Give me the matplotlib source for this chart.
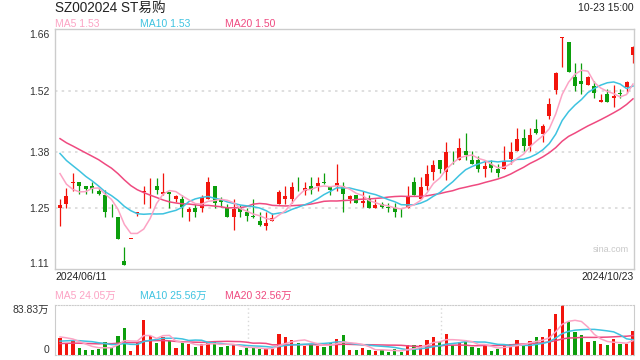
import numpy as np
import pandas as pd
import matplotlib
matplotlib.use("Agg")
import matplotlib.pyplot as plt

plt.rcParams['font.family'] = ['Liberation Sans', 'Noto Sans CJK SC', 'DejaVu Sans']

# Daily candles, 2024/06/11 - 2024/10/23
opens = [1.251, 1.260, 1.308, 1.310, 1.301, 1.301, 1.290, 1.280, 1.242, 1.230,
         1.128, 1.179, 1.238, 1.287, 1.300, 1.301, 1.282, 1.288, 1.272, 1.270,
         1.242, 1.250, 1.251, 1.272, 1.301, 1.270, 1.251, 1.230, 1.251, 1.242,
         1.230, 1.220, 1.209, 1.220, 1.260, 1.270, 1.270, 1.302, 1.290, 1.301,
         1.301, 1.310, 1.301, 1.301, 1.301, 1.270, 1.280, 1.261, 1.271, 1.251,
         1.260, 1.252, 1.251, 1.241, 1.251, 1.309, 1.271, 1.301, 1.332, 1.361,
         1.332, 1.371, 1.361, 1.382, 1.361, 1.361, 1.340, 1.352, 1.340, 1.340,
         1.362, 1.382, 1.412, 1.392, 1.432, 1.421, 1.463, 1.522, 1.642, 1.632,
         1.551, 1.543, 1.533, 1.532, 1.494, 1.513, 1.503, 1.515, 1.528, 1.602]
closes = [1.257, 1.278, 1.310, 1.302, 1.293, 1.295, 1.282, 1.240, 1.240, 1.180,
          1.120, 1.179, 1.240, 1.290, 1.302, 1.292, 1.286, 1.282, 1.278, 1.252,
          1.248, 1.242, 1.276, 1.310, 1.261, 1.263, 1.230, 1.248, 1.242, 1.233,
          1.229, 1.211, 1.216, 1.227, 1.287, 1.278, 1.299, 1.300, 1.296, 1.292,
          1.308, 1.308, 1.292, 1.308, 1.282, 1.278, 1.261, 1.266, 1.251, 1.257,
          1.252, 1.250, 1.242, 1.240, 1.278, 1.280, 1.298, 1.329, 1.349, 1.340,
          1.380, 1.369, 1.388, 1.372, 1.352, 1.340, 1.348, 1.343, 1.331, 1.359,
          1.379, 1.409, 1.392, 1.418, 1.423, 1.440, 1.490, 1.561, 1.644, 1.563,
          1.532, 1.535, 1.551, 1.514, 1.499, 1.494, 1.509, 1.513, 1.541, 1.620]
highs = [1.270, 1.297, 1.330, 1.310, 1.301, 1.310, 1.296, 1.292, 1.259, 1.230,
         1.160, 1.179, 1.240, 1.302, 1.320, 1.319, 1.331, 1.288, 1.281, 1.280,
         1.253, 1.261, 1.280, 1.321, 1.301, 1.276, 1.259, 1.270, 1.257, 1.250,
         1.270, 1.240, 1.240, 1.238, 1.292, 1.301, 1.309, 1.321, 1.310, 1.321,
         1.321, 1.331, 1.301, 1.351, 1.310, 1.280, 1.280, 1.290, 1.280, 1.271,
         1.265, 1.261, 1.261, 1.250, 1.301, 1.321, 1.321, 1.349, 1.361, 1.361,
         1.401, 1.382, 1.412, 1.422, 1.382, 1.370, 1.361, 1.361, 1.352, 1.392,
         1.401, 1.435, 1.432, 1.434, 1.454, 1.444, 1.503, 1.564, 1.644, 1.633,
         1.583, 1.584, 1.553, 1.542, 1.513, 1.523, 1.533, 1.524, 1.543, 1.624]
lows = [1.210, 1.250, 1.290, 1.282, 1.282, 1.284, 1.280, 1.230, 1.230, 1.180,
        1.120, 1.179, 1.232, 1.260, 1.251, 1.282, 1.280, 1.251, 1.265, 1.230,
        1.220, 1.230, 1.242, 1.270, 1.250, 1.253, 1.230, 1.200, 1.230, 1.221,
        1.228, 1.209, 1.200, 1.220, 1.260, 1.260, 1.261, 1.290, 1.280, 1.282,
        1.290, 1.305, 1.280, 1.290, 1.240, 1.261, 1.261, 1.252, 1.251, 1.251,
        1.251, 1.242, 1.230, 1.230, 1.251, 1.280, 1.271, 1.292, 1.315, 1.330,
        1.315, 1.352, 1.361, 1.361, 1.352, 1.332, 1.321, 1.332, 1.321, 1.340,
        1.352, 1.382, 1.382, 1.382, 1.421, 1.402, 1.454, 1.513, 1.574, 1.563,
        1.520, 1.513, 1.533, 1.504, 1.494, 1.494, 1.482, 1.504, 1.514, 1.583]
# volume in 万 shares
volumes = [28.1, 20.4, 23.2, 11.0, 8.3, 8.3, 9.9, 22.1, 11.6, 31.4,
           44.7, 6.6, 21.0, 57.9, 31.4, 20.4, 29.8, 23.2, 11.6, 20.4,
           18.8, 13.8, 17.6, 21.5, 22.1, 13.2, 14.9, 16.5, 8.3, 11.6,
           11.6, 9.9, 10.5, 9.9, 34.7, 29.8, 24.8, 20.4, 15.4, 17.6,
           15.4, 13.2, 20.4, 26.5, 33.1, 8.3, 8.3, 11.6, 8.3, 6.6,
           8.3, 5.0, 9.4, 5.0, 16.5, 16.5, 16.5, 24.8, 29.8, 21.5,
           34.7, 16.5, 21.5, 24.8, 13.2, 11.6, 16.5, 6.6, 9.9, 18.2,
           18.2, 24.8, 16.5, 23.2, 29.8, 29.8, 43.0, 67.8, 83.83, 55.2,
           38.1, 33.1, 21.5, 23.2, 18.2, 16.5, 26.5, 18.2, 18.2, 39.7]

# sessions before 06/11 (estimated from where the MA lines start)
warmup_close = [1.47, 1.46, 1.46, 1.45, 1.45, 1.44, 1.44, 1.43, 1.43, 1.41,
                1.44, 1.43, 1.42, 1.42, 1.40, 1.40, 1.37, 1.33, 1.29]
warmup_vol = [14, 16, 13, 17, 15, 15, 14, 16, 15, 15,
              15, 18, 14, 17, 16, 28, 33, 31, 30]

# values shown in the legends (as printed on the chart)
ma_legend = [1.53, 1.53, 1.50]
vol_ma_legend = [24.05, 25.56, 32.56]

price_ticks = [1.66, 1.52, 1.38, 1.25, 1.11]
title = "SZ002024 ST易购"
stamp = "10-23 15:00"
first_date, last_date = "2024/06/11", "2024/10/23"

RED, GREEN = '#f2140c', '#0c9e0c'
C_MA5, C_MA10, C_MA20 = '#fca3c4', '#3ec3e0', '#ef4a80'
GRID = '#d9d9d9'

n = len(closes)
x = np.arange(n)
o, c, h, l = map(np.array, (opens, closes, highs, lows))
up = c >= o
cols = np.where(up, RED, GREEN)

cs = pd.Series(warmup_close + closes)
vs = pd.Series(warmup_vol + volumes)
k = len(warmup_close)
ma = {w: cs.rolling(w).mean().values[k:] for w in (5, 10, 20)}
vma = {w: vs.rolling(w).mean().values[k:] for w in (5, 10, 20)}

fig = plt.figure(figsize=(6.4, 3.6), dpi=100)
ax = fig.add_axes([55 / 640, 1 - 269 / 360, 579 / 640, 240 / 360])
axv = fig.add_axes([55 / 640, 1 - 355 / 360, 579 / 640, 50.5 / 360])

xlim = (-0.78, 89.16)

# price panel
for y in [1.52, 1.38, 1.25]:
    ax.axhline(y, color=GRID, lw=1.2, ls=(0, (1.5, 2.5)), zorder=0)
ax.vlines(x, l, h, colors=cols, lw=0.9, zorder=2)
body = np.maximum(np.abs(c - o), 0.0018)
ax.bar(x, body, bottom=np.minimum(o, c), width=0.62, color=cols, zorder=3)
ax.plot(x, ma[20], color=C_MA20, lw=1.1, zorder=4)
ax.plot(x, ma[10], color=C_MA10, lw=1.1, zorder=4)
ax.plot(x, ma[5], color=C_MA5, lw=1.1, zorder=4)
ax.set_xlim(*xlim)
ax.set_ylim(1.11, 1.662)
ax.set_xticks([])
ax.set_yticks(price_ticks)
ax.set_yticklabels([f"{t:.2f}" for t in price_ticks], fontsize=7.5, color='#333333')
ax.tick_params(axis='y', length=0, pad=4)
labels = ax.get_yticklabels()
labels[0].set_va('top')
labels[-1].set_va('bottom')
for s in ax.spines.values():
    s.set_color('#cccccc')
    s.set_linewidth(1)
ax.text(0.992, 0.08, "sina.com", transform=ax.transAxes, ha='right', va='center',
        fontsize=6.5, color='#c8c8c8')

# volume panel
axv.bar(x, volumes, width=0.5, color=cols, zorder=2)
axv.plot(x, vma[20], color=C_MA20, lw=1.1, zorder=3)
axv.plot(x, vma[10], color=C_MA10, lw=1.1, zorder=3)
axv.plot(x, vma[5], color=C_MA5, lw=1.1, zorder=3)
for xv in [29.2, 59.2]:
    axv.axvline(xv, color=GRID, lw=1, ls=(0, (1, 2)), zorder=0)
axv.set_xlim(*xlim)
axv.set_ylim(0, max(volumes))
axv.set_xticks([])
axv.set_yticks([0, max(volumes)])
axv.set_yticklabels(["0", f"{max(volumes):.2f}万"], fontsize=7.5, color='#333333')
axv.tick_params(axis='y', length=0, pad=4)
vl = axv.get_yticklabels()
vl[0].set_va('bottom')
vl[1].set_va('top')
for side in ('left', 'right'):
    axv.spines[side].set_color('#cccccc')
for side in ('top', 'bottom'):
    axv.spines[side].set_color('#cccccc')
    axv.spines[side].set_linestyle((0, (1, 1.5)))

# header texts
fig.text(55 / 640, 1 - 8 / 360, title, ha='left', va='center', fontsize=9.8, color='#222222')
fig.text(634 / 640, 1 - 8 / 360, stamp, ha='right', va='center', fontsize=7.5, color='#222222')
legend_x = [55, 140, 225]
for lx, w, col, mv, vv in zip(legend_x, (5, 10, 20), (C_MA5, C_MA10, C_MA20),
                              ma_legend, vol_ma_legend):
    fig.text(lx / 640, 1 - 24 / 360, f"MA{w} {mv:.2f}", ha='left', va='center',
             fontsize=7.5, color=col)
    fig.text(lx / 640, 1 - 296 / 360, f"MA{w} {vv:.2f}万", ha='left', va='center',
             fontsize=7.5, color=col)
fig.text(55 / 640, 1 - 277 / 360, first_date, ha='left', va='center', fontsize=7.5, color='#222222')
fig.text(634 / 640, 1 - 277 / 360, last_date, ha='right', va='center', fontsize=7.5, color='#222222')

fig.savefig("out.png", dpi=100)
